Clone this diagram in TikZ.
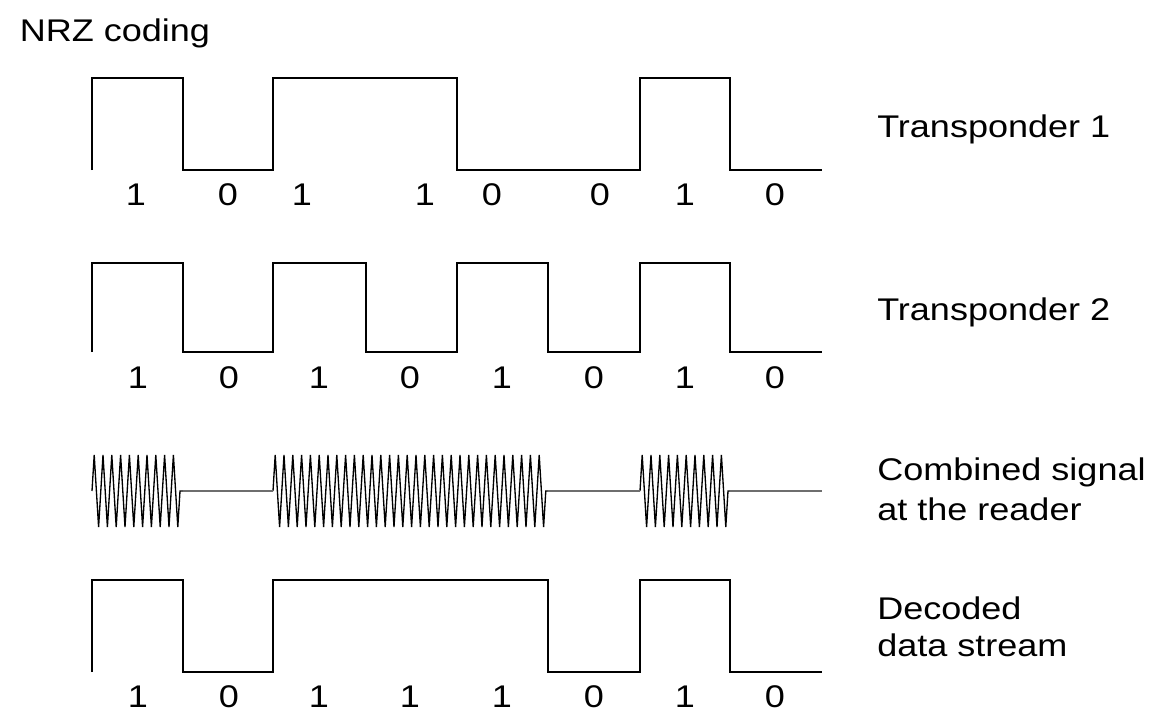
\documentclass[tikz,border=0pt]{standalone}
\usepackage{fontspec}
\setmainfont[FakeStretch=1.15]{Liberation Sans}
\usetikzlibrary{decorations.pathmorphing}
\begin{document}
\begin{tikzpicture}[x=0.75pt,y=0.75pt,yscale=-1,xscale=1,font=\fontsize{23.5}{29}\selectfont]
\useasboundingbox (0,0) rectangle (1154,722);

%Shape: Transponder 1 waveform
\draw [line width=1.2]  (92,170) -- (92,78) -- (183,78) -- (183,170) -- (273,170) -- (273,78) -- (457,78) -- (457,170) -- (640,170) -- (640,78) -- (730,78) -- (730,170) -- (822,170) ;
%Shape: Transponder 2 waveform
\draw [line width=1.2]  (92,352) -- (92,263) -- (183,263) -- (183,352) -- (273,352) -- (273,263) -- (366,263) -- (366,352) -- (457,352) -- (457,263) -- (548,263) -- (548,352) -- (640,352) -- (640,263) -- (730,263) -- (730,352) -- (822,352) ;
%Shape: Combined signal, bursts
\draw [line width=1, decorate, decoration={zigzag, segment length=6.6pt, amplitude=27pt}]  (92,491) -- (183,491) ;
\draw [line width=1, decorate, decoration={zigzag, segment length=6.6pt, amplitude=27pt}]  (273,491) -- (548,491) ;
\draw [line width=1, decorate, decoration={zigzag, segment length=6.6pt, amplitude=27pt}]  (640,491) -- (730,491) ;
%Straight Lines: Combined signal, gaps
\draw [color={rgb, 255:red, 110; green, 110; blue, 110 }, line width=0.8]  (183,491) -- (273,491) ;
\draw [color={rgb, 255:red, 110; green, 110; blue, 110 }, line width=0.8]  (548,491) -- (640,491) ;
\draw [color={rgb, 255:red, 110; green, 110; blue, 110 }, line width=0.8]  (730,491) -- (822,491) ;
%Shape: Decoded waveform
\draw [line width=1.2]  (92,672) -- (92,580) -- (183,580) -- (183,672) -- (273,672) -- (273,580) -- (548,580) -- (548,672) -- (640,672) -- (640,580) -- (730,580) -- (730,672) -- (822,672) ;

% Text Node
\draw (19.5,41) node [anchor=base west] [inner sep=0pt] (title) {NRZ coding};
% Text Node
\draw (877,137) node [anchor=base west] [inner sep=0pt] (tpA) {Transponder 1};
% Text Node
\draw (877,320) node [anchor=base west] [inner sep=0pt] (tpB) {Transponder 2};
% Text Node
\draw (877,480) node [anchor=base west] [inner sep=0pt] (combA) {Combined signal};
% Text Node
\draw (877,520) node [anchor=base west] [inner sep=0pt] (combB) {at the reader};
% Text Node
\draw (877,619) node [anchor=base west] [inner sep=0pt] (decA) {Decoded};
% Text Node
\draw (877,656) node [anchor=base west] [inner sep=0pt] (decB) {data stream};

% Text Node: bits of transponder 1
\draw (136,205) node [anchor=base] (bA1) {1};
\draw (228,205) node [anchor=base] (bA2) {0};
\draw (302,205) node [anchor=base] (bA3) {1};
\draw (425,205) node [anchor=base] (bA4) {1};
\draw (492,205) node [anchor=base] (bA5) {0};
\draw (600,205) node [anchor=base] (bA6) {0};
\draw (685,205) node [anchor=base] (bA7) {1};
\draw (775,205) node [anchor=base] (bA8) {0};
% Text Node: bits of transponder 2
\draw (138,388) node [anchor=base] (bB1) {1};
\draw (229,388) node [anchor=base] (bB2) {0};
\draw (319,388) node [anchor=base] (bB3) {1};
\draw (410,388) node [anchor=base] (bB4) {0};
\draw (502,388) node [anchor=base] (bB5) {1};
\draw (594,388) node [anchor=base] (bB6) {0};
\draw (685,388) node [anchor=base] (bB7) {1};
\draw (775,388) node [anchor=base] (bB8) {0};
% Text Node: decoded bits
\draw (138,707) node [anchor=base] (bD1) {1};
\draw (229,707) node [anchor=base] (bD2) {0};
\draw (319,707) node [anchor=base] (bD3) {1};
\draw (410,707) node [anchor=base] (bD4) {1};
\draw (502,707) node [anchor=base] (bD5) {1};
\draw (594,707) node [anchor=base] (bD6) {0};
\draw (685,707) node [anchor=base] (bD7) {1};
\draw (775,707) node [anchor=base] (bD8) {0};

\end{tikzpicture}
\end{document}
